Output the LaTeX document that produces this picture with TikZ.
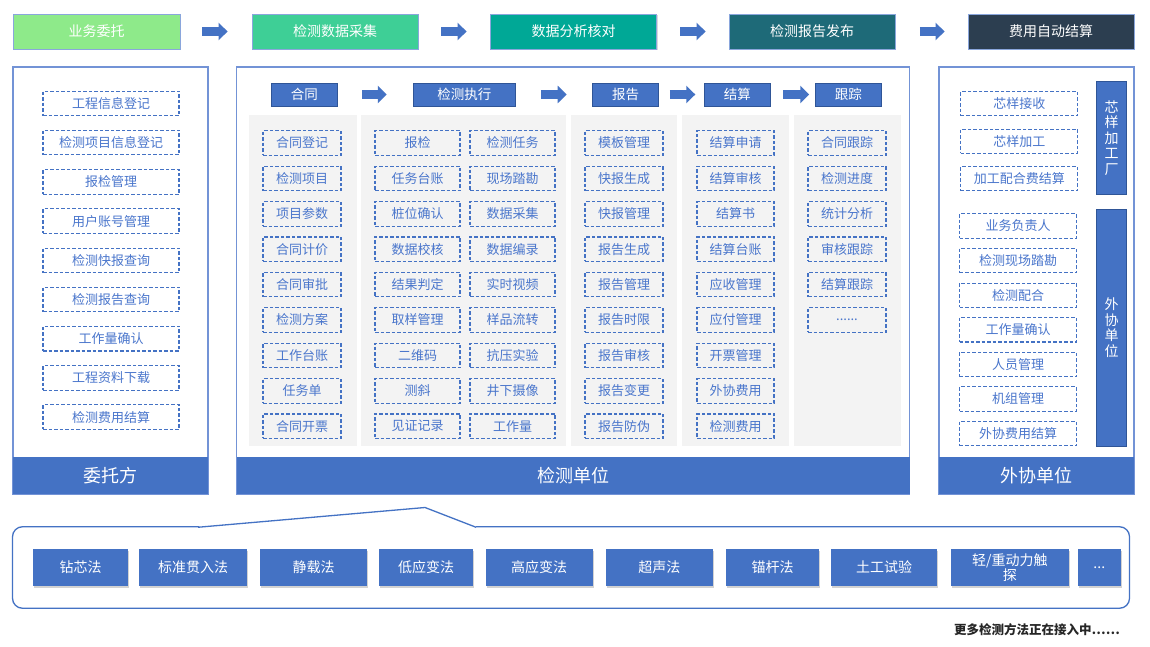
\documentclass[tikz,border=0pt]{standalone}
\usepackage{fontspec}
\setmainfont{Noto Sans CJK SC}
\usetikzlibrary{arrows.meta,shadows}
\definecolor{ublue}{HTML}{4472C4}
\definecolor{dblue}{HTML}{2F5597}
\definecolor{pborder}{HTML}{7393D6}
\definecolor{tborder}{HTML}{8AA6DC}
\definecolor{colbg}{HTML}{F3F3F3}
\definecolor{dtext}{HTML}{4A76CC}
\definecolor{gA}{HTML}{8EEA8A}
\definecolor{gB}{HTML}{3ECF96}
\definecolor{gC}{HTML}{00A896}
\definecolor{gD}{HTML}{1E6A78}
\definecolor{gE}{HTML}{2C3E50}
\newcommand\mysixdots{......}
\newcommand\mythreedots{...}
\begin{document}
\begin{tikzpicture}[x=1pt,y=-1pt,
  topbox/.style={draw=tborder, line width=0.8pt, text=white, minimum height=35, inner sep=0,
    font=\fontsize{14}{14}\selectfont, drop shadow={shadow xshift=1pt,shadow yshift=-1.5pt,opacity=0.3}},
  hdrbox/.style={draw=dblue, line width=0.6pt, fill=ublue, text=white, minimum height=23, inner sep=0,
    font=\fontsize{13.5}{13.5}\selectfont},
  barrow/.style={draw=ublue, line width=9pt, -{Triangle[length=9pt,width=17pt]}},
  panel/.style={draw=pborder, line width=1.2pt, fill=white, inner sep=0, minimum height=427},
  band/.style={fill=ublue, text=white, inner sep=0, minimum height=37, font=\fontsize{18}{18}\selectfont},
  colbox/.style={fill=colbg, inner sep=0, minimum height=330.5},
  dbox/.style={draw=ublue, line width=1.1pt, dash pattern=on 3.5pt off 2pt, text=dtext, inner sep=0,
    minimum height=24.5, font=\fontsize{13}{13}\selectfont},
  vbar/.style={fill=ublue, draw=dblue, line width=0.5pt, text=white, inner sep=0, minimum width=30, align=center,
    font=\fontsize{14}{15.5}\selectfont},
  mbox/.style={fill=ublue, text=white, inner sep=0, minimum height=36.4, align=center,
    font=\fontsize{14}{15}\selectfont, drop shadow={shadow xshift=1pt,shadow yshift=-2pt,opacity=0.35}},
  callout/.style={draw=ublue, line width=1.3pt, rounded corners=10, inner sep=0}
]
\useasboundingbox (0,0) rectangle (1150,647);
\fill[white] (0,0) rectangle (1150,647);

% ---------- top process bar ----------
\node[topbox, fill=gA, minimum width=167] (t1) at (96.5,31.5) {业务委托};
\node[topbox, fill=gB, minimum width=166] (t2) at (335,31.5) {检测数据采集};
\node[topbox, fill=gC, minimum width=166] (t3) at (573.5,31.5) {数据分析核对};
\node[topbox, fill=gD, minimum width=166] (t4) at (812,31.5) {检测报告发布};
\node[topbox, fill=gE, minimum width=166] (t5) at (1051,31.5) {费用自动结算};
\draw[barrow, shorten <=22pt, shorten >=24pt] (t1) -- (t2);
\draw[barrow, shorten <=23pt, shorten >=23.5pt] (t2) -- (t3);
\draw[barrow, shorten <=23.5pt, shorten >=23pt] (t3) -- (t4);
\draw[barrow, shorten <=24.5pt, shorten >=23pt] (t4) -- (t5);

% ---------- left panel ----------
\node[panel, minimum width=195] (pL) at (110.5,280.5) {};
\node[band, minimum width=195] (bL) at (110.5,475.5) {委托方};
\foreach \t [count=\i from 0] in {工程信息登记,检测项目信息登记,报检管理,用户账号管理,检测快报查询,检测报告查询,工作量确认,工程资料下载,检测费用结算}
  \node[dbox, minimum width=136] (L\i) at (111,{103.5+39.2*\i}) {\t};

% ---------- middle panel ----------
\node[panel, minimum width=673] (pM) at (573,280.5) {};
\node[band, minimum width=673] (bM) at (573,475.5) {检测单位};
\node[colbox, minimum width=107.7] (c1) at (302.85,280.25) {};
\node[colbox, minimum width=204.7] (c2) at (463.35,280.25) {};
\node[colbox, minimum width=105.9] (c3) at (623.55,280.25) {};
\node[colbox, minimum width=107] (c4) at (735.5,280.25) {};
\node[colbox, minimum width=107] (c5) at (847,280.25) {};

\node[hdrbox, minimum width=65.5] (h1) at (304.3,94.5) {合同};
\node[hdrbox, minimum width=102.7] (h2) at (464.4,94.5) {检测执行};
\node[hdrbox, minimum width=66] (h3) at (625.5,94.5) {报告};
\node[hdrbox, minimum width=65.4] (h4) at (737.3,94.5) {结算};
\node[hdrbox, minimum width=65.3] (h5) at (848.4,94.5) {跟踪};
\draw[barrow, shorten <=25pt, shorten >=26pt] (h1) -- (h2);
\draw[barrow, shorten <=25.3pt, shorten >=25.5pt] (h2) -- (h3);
\draw[barrow, shorten <=11pt, shorten >=9pt] (h3) -- (h4);
\draw[barrow, shorten <=12.7pt, shorten >=6.2pt] (h4) -- (h5);

\foreach \t [count=\i from 0] in {合同登记,检测项目,项目参数,合同计价,合同审批,检测方案,工作台账,任务单,合同开票}
  \node[dbox, minimum width=78] (ma\i) at (302,{143+35.4*\i}) {\t};
\foreach \t [count=\i from 0] in {报检,任务台账,桩位确认,数据校核,结果判定,取样管理,二维码,测斜,见证记录}
  \node[dbox, minimum width=85] (mb\i) at (417.5,{143+35.4*\i}) {\t};
\foreach \t [count=\i from 0] in {检测任务,现场踏勘,数据采集,数据编录,实时视频,样品流转,抗压实验,井下摄像,工作量}
  \node[dbox, minimum width=85] (mc\i) at (512.5,{143+35.4*\i}) {\t};
\foreach \t [count=\i from 0] in {模板管理,快报生成,快报管理,报告生成,报告管理,报告时限,报告审核,报告变更,报告防伪}
  \node[dbox, minimum width=78] (md\i) at (624,{143+35.4*\i}) {\t};
\foreach \t [count=\i from 0] in {结算申请,结算审核,结算书,结算台账,应收管理,应付管理,开票管理,外协费用,检测费用}
  \node[dbox, minimum width=77] (me\i) at (735.5,{143+35.4*\i}) {\t};
\foreach \t [count=\i from 0] in {合同跟踪,检测进度,统计分析,审核跟踪,结算跟踪,\mysixdots}
  \node[dbox, minimum width=78] (mf\i) at (847,{143+35.4*\i}) {\t};

% ---------- right panel ----------
\node[panel, minimum width=195] (pR) at (1036.5,280.5) {};
\node[band, minimum width=195] (bR) at (1036.5,475.5) {外协单位};
\node[vbar, minimum height=112.6] (v1) at (1111.7,138) {芯\\样\\加\\工\\厂};
\node[vbar, minimum height=236.7] (v2) at (1111.7,327.6) {外\\协\\单\\位};
\foreach \t [count=\i from 0] in {芯样接收,芯样加工,加工配合费结算}
  \node[dbox, minimum width=117, minimum height=24] (ra\i) at (1019.3,{103.7+37.5*\i}) {\t};
\foreach \t [count=\i from 0] in {业务负责人,检测现场踏勘,检测配合,工作量确认,人员管理,机组管理,外协费用结算}
  \node[dbox, minimum width=117, minimum height=24.3] (rb\i) at (1018,{226+34.6*\i}) {\t};

% ---------- bottom methods ----------
\node[callout, minimum width=1117, minimum height=81.5] (bot) at (571,567.5) {};
\draw[white, line width=3pt] (198.5,527.25) -- (475.5,527.25);
\coordinate (nl) at (198,527.25);
\coordinate (np) at (425,507.5);
\coordinate (nr) at (476,527.25);
\draw[draw=ublue, line width=1.3pt, line join=round] (nl) -- (np) -- (nr);

\foreach \c/\w/\t [count=\i from 1] in {80.7/95.3/钻芯法, 193.2/107.7/标准贯入法, 313.5/106.3/静载法,
   426/94/低应变法, 539/107/高应变法, 659.4/107.2/超声法, 772.6/93.2/锚杆法,
   884.2/106.3/土工试验, 1009.8/117.6/{轻/重动力触\\探}, 1099.3/42.6/\mythreedots}
  \node[mbox, minimum width=\w] (m\i) at (\c,567.5) {\t};

\node[anchor=east, inner sep=0, text=black!85, font=\fontsize{12.5}{12.5}\selectfont\bfseries] (more) at (1120,630) {更多检测方法正在接入中……};
\end{tikzpicture}
\end{document}
